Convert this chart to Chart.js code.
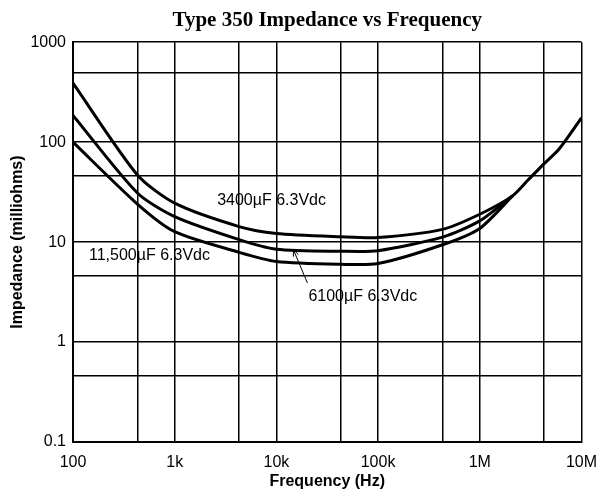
<!DOCTYPE html>
<html>
<head>
<meta charset="utf-8">
<script src="https://cdn.jsdelivr.net/npm/chart.js@4.4.0/dist/chart.umd.min.js"></script>
<style>
  html, body { margin: 0; padding: 0; background: #fff; }
  #wrap { width: 608px; height: 495px; }
</style>
</head>
<body>
<div id="wrap"><canvas id="impChart" width="608" height="495"></canvas></div>
<script>
const freqHz = [100, 430, 1000, 4300, 10000, 43000, 100000, 430000, 1000000, 2100000];
// impedance in milliohms for each part
const z3400 = [390, 47, 24.5, 14.3, 12.2, 11.3, 11.1, 13.4, 19, 29];
const z6100 = [185, 31, 18, 10.6, 8.5, 8.1, 8.2, 11.2, 16.3, 29];
const z11500 = [100, 24, 12.7, 7.9, 6.4, 6.0, 6.1, 9.4, 13.7, 29];
// above ~2MHz all three curves run together
const tailHz = [3000000, 4300000, 6000000, 10000000];
const tailZ = [42, 61, 85, 175];

// grid lines and their labels
const xGrid = [100, 430, 1000, 4300, 10000, 43000, 100000, 430000, 1000000, 4300000, 10000000];
const xTickLabels = ['100', '', '1k', '', '10k', '', '100k', '', '1M', '', '10M'];
const yGrid = [0.1, 0.46, 1, 4.6, 10, 46, 100, 490, 1000];
const yTickLabels = ['0.1', '', '1', '', '10', '', '100', '', '1000'];

const sansFont = "'Liberation Sans', Arial, Helvetica, sans-serif";

function toPoints(xs, ys) {
    return xs.map((x, i) => ({ x: x, y: ys[i] }));
}

function curve(label, points) {
    return {
        label: label,
        data: points,
        borderColor: '#000',
        borderWidth: 3,
        pointRadius: 0,
        tension: 0.25,
        fill: false
    };
}

// text labels on the curves + the little arrow for 6100uF
const curveLabels = {
    id: 'curveLabels',
    afterDatasetsDraw(chart) {
        const ctx = chart.ctx;
        const xs = chart.scales.x;
        const ys = chart.scales.y;
        ctx.save();
        ctx.fillStyle = '#000';
        ctx.font = '16px ' + sansFont;
        ctx.textAlign = 'center';
        ctx.textBaseline = 'middle';
        ctx.fillText('3400\u00B5F 6.3Vdc', xs.getPixelForValue(8970), ys.getPixelForValue(26.3));
        ctx.fillText('11,500\u00B5F 6.3Vdc', xs.getPixelForValue(565), ys.getPixelForValue(7.4));
        ctx.fillText('6100\u00B5F 6.3Vdc', xs.getPixelForValue(70800), ys.getPixelForValue(2.82));

        // arrow pointing at the middle curve
        const x1 = xs.getPixelForValue(20200), y1 = ys.getPixelForValue(3.9);
        const x2 = xs.getPixelForValue(14700), y2 = ys.getPixelForValue(8.4);
        const ang = Math.atan2(y2 - y1, x2 - x1);
        ctx.strokeStyle = '#000';
        ctx.lineWidth = 1;
        ctx.beginPath();
        ctx.moveTo(x1, y1);
        ctx.lineTo(x2, y2);
        ctx.moveTo(x2, y2);
        ctx.lineTo(x2 - 7 * Math.cos(ang - 0.4), y2 - 7 * Math.sin(ang - 0.4));
        ctx.moveTo(x2, y2);
        ctx.lineTo(x2 - 7 * Math.cos(ang + 0.4), y2 - 7 * Math.sin(ang + 0.4));
        ctx.stroke();
        ctx.restore();
    }
};

const ctx = document.getElementById('impChart').getContext('2d');
const chart = new Chart(ctx, {
    type: 'line',
    data: {
        datasets: [
            curve('3400uF 6.3Vdc', toPoints(freqHz.concat(tailHz), z3400.concat(tailZ))),
            curve('6100uF 6.3Vdc', toPoints(freqHz, z6100)),
            curve('11,500uF 6.3Vdc', toPoints(freqHz, z11500))
        ]
    },
    options: {
        responsive: false,
        animation: false,
        layout: {
            padding: { top: 0, right: 23, left: 0, bottom: 0 }
        },
        plugins: {
            legend: { display: false },
            tooltip: { enabled: false },
            title: {
                display: true,
                fullSize: false,
                text: 'Type 350 Impedance vs Frequency',
                color: '#000',
                font: { family: "'Liberation Serif', 'Times New Roman', serif", size: 21, weight: 'bold' },
                padding: { top: 8, bottom: 9 }
            }
        },
        scales: {
            x: {
                type: 'logarithmic',
                min: 100,
                max: 10000000,
                afterBuildTicks: axis => {
                    axis.ticks = xGrid.map(v => ({ value: v }));
                },
                afterFit: axis => {
                    axis.height = 53;
                },
                ticks: {
                    autoSkip: false,
                    maxRotation: 0,
                    color: '#000',
                    padding: 11,
                    font: { family: sansFont, size: 16 },
                    callback: (value, index) => xTickLabels[index]
                },
                grid: { color: '#000', lineWidth: 1.5, drawTicks: false },
                border: { color: '#000', width: 2 },
                title: {
                    display: true,
                    text: 'Frequency (Hz)',
                    color: '#000',
                    font: { family: sansFont, size: 16, weight: 'bold' },
                    padding: { top: 0, bottom: 4 }
                }
            },
            y: {
                type: 'logarithmic',
                min: 0.1,
                max: 1000,
                afterBuildTicks: axis => {
                    axis.ticks = yGrid.map(v => ({ value: v }));
                },
                afterFit: axis => {
                    axis.width = 73;
                },
                ticks: {
                    autoSkip: false,
                    color: '#000',
                    padding: 7,
                    font: { family: sansFont, size: 16 },
                    callback: (value, index) => yTickLabels[index]
                },
                grid: { color: '#000', lineWidth: 1.5, drawTicks: false },
                border: { color: '#000', width: 2 },
                title: {
                    display: true,
                    text: 'Impedance (milliohms)',
                    color: '#000',
                    font: { family: sansFont, size: 16, weight: 'bold' },
                    padding: { top: 8, bottom: 0 }
                }
            }
        }
    },
    plugins: [curveLabels]
});
</script>
</body>
</html>
